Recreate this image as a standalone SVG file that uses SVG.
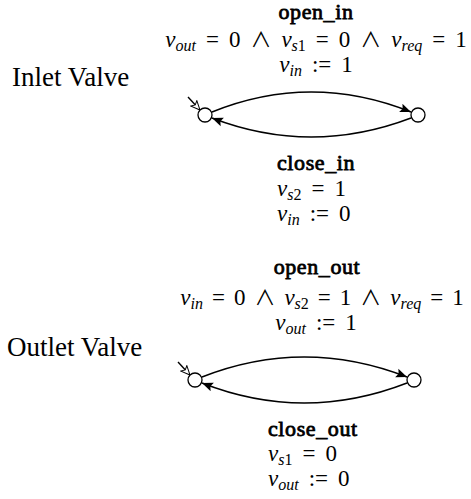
<svg xmlns="http://www.w3.org/2000/svg" width="471" height="499" viewBox="0 0 471 499">
<defs>
<style>
text{font-family:"Liberation Serif","Times New Roman",serif;font-size:23px;fill:#000}
.b{font-size:22px;stroke:#000;stroke-width:0.8;letter-spacing:0.6px}
.big{font-size:27px}
.m{text-anchor:middle}
.i{font-style:italic}
.s{font-size:16px;font-style:italic}
.n{font-size:16px}
.w{font-family:"Noto Sans CJK SC","DejaVu Sans",sans-serif;font-size:21px}
.st{fill:#fff;stroke:#000;stroke-width:1.3}
.e{fill:none;stroke:#000;stroke-width:1.4}
</style>
<marker id="ah" markerUnits="userSpaceOnUse" markerWidth="13" markerHeight="11" refX="11" refY="5.5" orient="auto">
<path d="M0,1 L11,5.5 L0,10 L2,5.5 Z" fill="#000"/>
</marker>
<marker id="ih" markerUnits="userSpaceOnUse" markerWidth="12" markerHeight="10" refX="10" refY="5" orient="auto">
<path d="M1,1 L10,5 L1,9 L3,5 Z" fill="#fff" stroke="#000" stroke-width="1"/>
</marker>
</defs>
<rect width="471" height="499" fill="#fff"/>

<g id="labels">
<text class="big" x="12" y="86">Inlet Valve</text>
<text class="big" x="7" y="356">Outlet Valve</text>
</g>

<g id="connectors">
<path class="e" d="M188,97 L200,110" marker-end="url(#ih)"/>
<path class="e" d="M212,112 Q311,72 411,112" marker-end="url(#ah)"/>
<path class="e" d="M411,118 Q311,156 212,118" marker-end="url(#ah)"/>
<path class="e" d="M178,362 L190,375" marker-end="url(#ih)"/>
<path class="e" d="M202,377 Q304,337 407,377" marker-end="url(#ah)"/>
<path class="e" d="M407,383 Q304,423 202,383" marker-end="url(#ah)"/>
</g>

<g id="in_closed"><circle class="st" cx="205" cy="115" r="7"/></g>
<g id="in_open"><circle class="st" cx="418" cy="115" r="7"/></g>
<g id="out_closed"><circle class="st" cx="195" cy="380" r="7"/></g>
<g id="out_open"><circle class="st" cx="414" cy="380" r="7"/></g>

<g id="open_in_label">
<text class="b m" x="316" y="19">open_in</text>
<text class="m" x="316" y="47"><tspan class="i">v</tspan><tspan class="s" dy="4">out</tspan><tspan dx="10" dy="-4">=</tspan><tspan dx="10">0</tspan><tspan class="w" dx="10">∧</tspan><tspan class="i" dx="10">v</tspan><tspan class="s" dy="4">s</tspan><tspan class="n">1</tspan><tspan dx="10" dy="-4">=</tspan><tspan dx="10">0</tspan><tspan class="w" dx="10">∧</tspan><tspan class="i" dx="10">v</tspan><tspan class="s" dy="4">req</tspan><tspan dx="10" dy="-4">=</tspan><tspan dx="10">1</tspan></text>
<text class="m" x="316" y="72"><tspan class="i">v</tspan><tspan class="s" dy="4">in</tspan><tspan dx="10" dy="-4">:=</tspan><tspan dx="10">1</tspan></text>
</g>

<g id="close_in_label">
<text class="b" x="277" y="170">close_in</text>
<text x="277" y="196"><tspan class="i">v</tspan><tspan class="s" dy="4">s</tspan><tspan class="n">2</tspan><tspan dx="10" dy="-4">=</tspan><tspan dx="10">1</tspan></text>
<text x="277" y="221"><tspan class="i">v</tspan><tspan class="s" dy="4">in</tspan><tspan dx="10" dy="-4">:=</tspan><tspan dx="10">0</tspan></text>
</g>

<g id="open_out_label">
<text class="b m" x="317" y="274">open_out</text>
<text class="m" x="322" y="305"><tspan class="i">v</tspan><tspan class="s" dy="4">in</tspan><tspan dx="9" dy="-4">=</tspan><tspan dx="9">0</tspan><tspan class="w" dx="9">∧</tspan><tspan class="i" dx="9">v</tspan><tspan class="s" dy="4">s</tspan><tspan class="n">2</tspan><tspan dx="9" dy="-4">=</tspan><tspan dx="9">1</tspan><tspan class="w" dx="9">∧</tspan><tspan class="i" dx="9">v</tspan><tspan class="s" dy="4">req</tspan><tspan dx="9" dy="-4">=</tspan><tspan dx="9">1</tspan></text>
<text class="m" x="316" y="330"><tspan class="i">v</tspan><tspan class="s" dy="4">out</tspan><tspan dx="10" dy="-4">:=</tspan><tspan dx="10">1</tspan></text>
</g>

<g id="close_out_label">
<text class="b" x="268" y="436">close_out</text>
<text x="268" y="461"><tspan class="i">v</tspan><tspan class="s" dy="4">s</tspan><tspan class="n">1</tspan><tspan dx="10" dy="-4">=</tspan><tspan dx="10">0</tspan></text>
<text x="268" y="486"><tspan class="i">v</tspan><tspan class="s" dy="4">out</tspan><tspan dx="10" dy="-4">:=</tspan><tspan dx="10">0</tspan></text>
</g>
</svg>
